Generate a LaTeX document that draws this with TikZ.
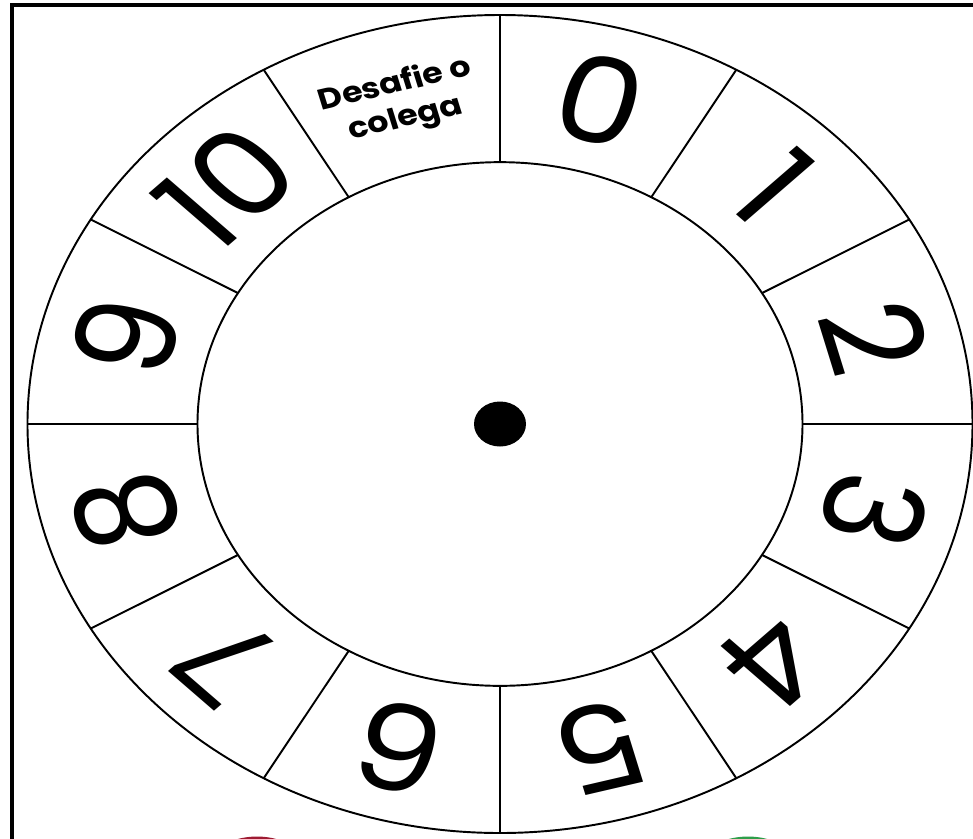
\documentclass[tikz,border=0pt]{standalone}
\usepackage{fontspec}
\setmainfont{Poppins}
\definecolor{dotred}{HTML}{9E1B32}
\definecolor{dotgreen}{HTML}{2E9E4A}
\tikzset{
  rim/.style={line width=1.1pt},
  frameline/.style={line width=2.8pt},
  digit/.style={font=\fontsize{78}{78}\selectfont, inner sep=0pt},
}

\begin{document}
\begin{tikzpicture}[dare/.style = {font=\fontsize{19}{23}\selectfont\bfseries,
      align=center, inner sep=0pt}]

      \useasboundingbox (-10,-8.28) rectangle (9.46,8.48);
      \clip (-10,-8.28) rectangle (9.46,8.48);

      % --- Frame and the two buttons below ---
      \draw[frameline] (-9.76,-8.3) -- (-9.76,8.38) -- (9.5,8.38);
      \fill[dotred] (-4.86,-9.75) circle (1.5);
      \fill[dotgreen] (4.96,-9.75) circle (1.5);

      \begin{scope}[yscale=0.8656, transform shape]
      % --- Wheel ---
      \draw[rim] (0,0) circle (9.45);
      \draw[rim] (0,0) circle (6.05);
      \draw[rim]
      (0:6.05) -- (0:9.45)     (30:6.05) -- (30:9.45)
      (60:6.05) -- (60:9.45)   (90:6.05) -- (90:9.45)
      (120:6.05) -- (120:9.45) (150:6.05) -- (150:9.45)
      (180:6.05) -- (180:9.45) (210:6.05) -- (210:9.45)
      (240:6.05) -- (240:9.45) (270:6.05) -- (270:9.45)
      (300:6.05) -- (300:9.45) (330:6.05) -- (330:9.45);
      \fill (0,0) circle (0.52);

      % --- Labels ---
      \node[dare, rotate=15] (dare) at (105:7.7) {Desafie o\\colega};
      \node[digit, rotate=-15] (n0) at (75:7.75) {0};
      \node[digit, rotate=-45] (n1) at (45:7.75) {1};
      \node[digit, rotate=-75] (n2) at (15:7.75) {2};
      \node[digit, rotate=-105] (n3) at (-15:7.75) {3};
      \node[digit, rotate=-135] (n4) at (-45:7.75) {4};
      \node[digit, rotate=-165] (n5) at (-75:7.75) {5};
      \node[digit, rotate=165] (n6) at (-105:7.75) {6};
      \node[digit, rotate=135] (n7) at (-135:7.75) {7};
      \node[digit, rotate=105] (n8) at (-165:7.75) {8};
      \node[digit, rotate=75] (n9) at (165:7.75) {9};
      \node[digit, rotate=45] (n10) at (135:7.75) {10};
      \end{scope}

    \end{tikzpicture}
\end{document}
